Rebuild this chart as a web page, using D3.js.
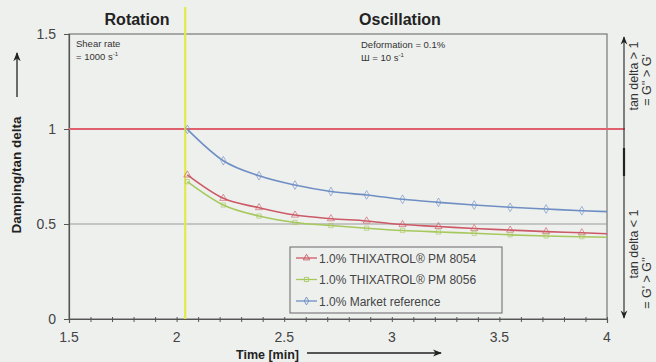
<!DOCTYPE html>
<html><head><meta charset="utf-8">
<script src="https://cdn.jsdelivr.net/npm/d3@7"></script>
<style>
html,body{margin:0;padding:0;background:#eef0ee;}
svg{display:block;font-family:Arial,"Liberation Sans",sans-serif;}
</style></head>
<body><svg id="c" width="656" height="362"></svg>
<script>
const times = [2.05, 2.217, 2.383, 2.55, 2.717, 2.883, 3.05, 3.217, 3.383, 3.55, 3.717, 3.883, 4.0];
const pm8054 = [0.758, 0.635, 0.586, 0.547, 0.528, 0.516, 0.497, 0.487, 0.476, 0.468, 0.460, 0.454, 0.449];
const pm8056 = [0.723, 0.600, 0.542, 0.508, 0.492, 0.478, 0.466, 0.458, 0.451, 0.443, 0.437, 0.433, 0.430];
const marketRef = [0.998, 0.833, 0.754, 0.705, 0.671, 0.653, 0.630, 0.614, 0.600, 0.588, 0.579, 0.570, 0.565];
const seriesNames = ["1.0% THIXATROL\u00ae PM 8054", "1.0% THIXATROL\u00ae PM 8056", "1.0% Market reference"];
const xTicks = [1.5, 2, 2.5, 3, 3.5, 4];
const yTicks = [0, 0.5, 1, 1.5];
const switchTime = 2.04;

const svg = d3.select("#c");
const L = 69, R = 607, T = 34, B = 319;
const x = d3.scaleLinear().domain([1.5, 4]).range([L, R]);
const y = d3.scaleLinear().domain([0, 1.5]).range([B, T]);

// frame
svg.append("rect").attr("x", L).attr("y", T).attr("width", R - L).attr("height", B - T)
  .attr("fill", "none").attr("stroke", "#777").attr("stroke-width", 1.2);

// gray line at 0.5
svg.append("line").attr("x1", L).attr("x2", R).attr("y1", y(0.5)).attr("y2", y(0.5))
  .attr("stroke", "#9a9a9a").attr("stroke-width", 1);

// x axis with minor ticks
const xAxis = d3.axisBottom(x).tickValues(d3.range(15, 41).map(d => d / 10)).tickSize(4).tickFormat("");
const gx = svg.append("g").attr("transform", `translate(0,${B})`).call(xAxis);
gx.select(".domain").attr("stroke", "#555").attr("stroke-width", 1.2);
gx.selectAll(".tick line").attr("stroke", "#555").attr("y1", -2).attr("y2", 3);
svg.append("g").selectAll("text").data(xTicks).join("text")
  .attr("x", d => x(d)).attr("y", 342).attr("text-anchor", "middle")
  .attr("font-size", 14).attr("fill", "#444").text(d => d);

// y axis
const gy = svg.append("g").attr("transform", `translate(${L},0)`)
  .call(d3.axisLeft(y).tickValues(yTicks).tickSize(5).tickFormat(""));
gy.select(".domain").attr("stroke", "#555").attr("stroke-width", 1.2);
gy.selectAll(".tick line").attr("stroke", "#555");
svg.append("g").selectAll("text").data(yTicks).join("text")
  .attr("x", 56).attr("y", d => y(d) + 5).attr("text-anchor", "end")
  .attr("font-size", 14).attr("fill", "#444").text(d => d);

// red line at 1
svg.append("line").attr("x1", L).attr("x2", 625).attr("y1", y(1)).attr("y2", y(1))
  .attr("stroke", "#e0606e").attr("stroke-width", 2);

// yellow switch line
svg.append("line").attr("x1", x(switchTime)).attr("x2", x(switchTime)).attr("y1", 7).attr("y2", B)
  .attr("stroke", "#e4e84a").attr("stroke-width", 2.2);

// headers
svg.append("text").attr("x", 137).attr("y", 25).attr("text-anchor", "middle")
  .attr("font-size", 16).attr("font-weight", "bold").attr("fill", "#222").text("Rotation");
svg.append("text").attr("x", 400).attr("y", 25).attr("text-anchor", "middle")
  .attr("font-size", 16).attr("font-weight", "bold").attr("fill", "#222").text("Oscillation");

// annotations
const ann1 = svg.append("text").attr("font-size", 9.5).attr("fill", "#333");
ann1.append("tspan").attr("x", 76).attr("y", 47).text("Shear rate");
ann1.append("tspan").attr("x", 76).attr("y", 60).text("= 1000 s");
ann1.append("tspan").attr("dy", -4).attr("font-size", 6).text("-1");
const ann2 = svg.append("text").attr("font-size", 9.5).attr("fill", "#333");
ann2.append("tspan").attr("x", 361).attr("y", 48).text("Deformation = 0.1%");
ann2.append("tspan").attr("x", 361).attr("y", 61).text("\u0428 = 10 s");
ann2.append("tspan").attr("dy", -4).attr("font-size", 6).text("-1");

// series
const colors = ["#cc5a66", "#a6c85c", "#6f8fc4"];
const data = [pm8054, pm8056, marketRef];
const shapes = [d3.symbolTriangle, d3.symbolSquare, d3.symbolDiamond];
const line = d3.line().x((d, i) => x(times[i])).y(d => y(d)).curve(d3.curveMonotoneX);
data.forEach((s, k) => {
  svg.append("path").datum(s).attr("d", line).attr("fill", "none")
    .attr("stroke", colors[k]).attr("stroke-width", 1.6);
  svg.append("g").selectAll("path").data(s.slice(0, -1)).join("path")
    .attr("transform", (d, i) => `translate(${x(times[i])},${y(d)})`)
    .attr("d", d3.symbol().type(shapes[k]).size(k === 1 ? 18 : 22))
    .attr("fill", "none").attr("stroke", colors[k]).attr("stroke-width", 0.9).attr("opacity", 0.7);
});

// legend
const lg = svg.append("g");
lg.append("rect").attr("x", 290).attr("y", 247).attr("width", 212).attr("height", 66)
  .attr("fill", "#eef0ee").attr("stroke", "#666").attr("stroke-width", 1);
seriesNames.forEach((n, k) => {
  const yy = 258 + k * 21.5;
  lg.append("line").attr("x1", 296).attr("x2", 317).attr("y1", yy).attr("y2", yy)
    .attr("stroke", colors[k]).attr("stroke-width", 1.3);
  lg.append("path").attr("transform", `translate(306.5,${yy})`)
    .attr("d", d3.symbol().type(shapes[k]).size(18)).attr("fill", "none").attr("stroke", colors[k]).attr("stroke-width", 0.9);
  lg.append("text").attr("x", 319).attr("y", yy + 4.5).attr("font-size", 12).attr("fill", "#444").text(n);
});

// axis titles
svg.append("text").attr("transform", "translate(21,175) rotate(-90)").attr("text-anchor", "middle")
  .attr("font-size", 13.5).attr("font-weight", "bold").attr("fill", "#222").text("Damping/tan delta");
const defs = svg.append("defs");
defs.append("marker").attr("id", "ah").attr("viewBox", "0 0 10 10").attr("refX", 9).attr("refY", 5)
  .attr("markerWidth", 7).attr("markerHeight", 7).attr("orient", "auto")
  .append("path").attr("d", "M0,1 L10,5 L0,9 L3,5 Z").attr("fill", "#222");
svg.append("line").attr("x1", 17).attr("x2", 17).attr("y1", 97).attr("y2", 53)
  .attr("stroke", "#222").attr("stroke-width", 1.3).attr("marker-end", "url(#ah)");
svg.append("text").attr("x", 236).attr("y", 359).attr("font-size", 12.5).attr("font-weight", "bold")
  .attr("fill", "#222").text("Time [min]");
svg.append("line").attr("x1", 307).attr("x2", 441).attr("y1", 353).attr("y2", 353)
  .attr("stroke", "#222").attr("stroke-width", 1.3).attr("marker-end", "url(#ah)");

// right indicator
svg.append("line").attr("x1", 624).attr("x2", 624).attr("y1", 150).attr("y2", 37)
  .attr("stroke", "#333").attr("stroke-width", 1.2).attr("marker-end", "url(#ah)");
svg.append("line").attr("x1", 624).attr("x2", 624).attr("y1", 150).attr("y2", 318)
  .attr("stroke", "#333").attr("stroke-width", 1.2).attr("marker-end", "url(#ah)");
svg.append("line").attr("x1", 624).attr("x2", 624).attr("y1", 148).attr("y2", 176)
  .attr("stroke", "#222").attr("stroke-width", 2.2);
const rt = [["tan delta > 1", 638, 76], ["= G'' > G'", 651, 80], ["tan delta < 1", 638, 244], ["= G' > G''", 651, 283]];
svg.append("g").selectAll("text").data(rt).join("text")
  .attr("transform", d => `translate(${d[1]},${d[2]}) rotate(-90)`).attr("text-anchor", "middle")
  .attr("font-size", 12.5).attr("fill", "#333").text(d => d[0]);
</script></body></html>
